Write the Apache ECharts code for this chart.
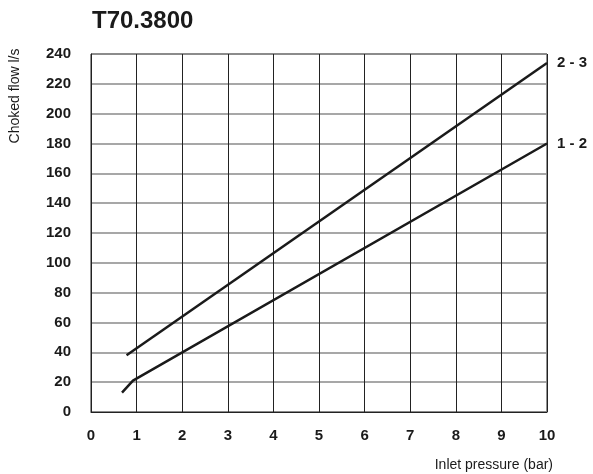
<!DOCTYPE html>
<html>
<head>
<meta charset="utf-8">
<title>T70.3800</title>
<script src="https://cdn.jsdelivr.net/npm/echarts@6/dist/echarts.min.js"></script>
<style>
  html, body { margin: 0; padding: 0; background: #fff; }
  #chart { width: 593px; height: 474px; }
</style>
</head>
<body>
<div id="chart"></div>
<script>
// x 轴 / y 轴刻度
const xTicks = [0, 1, 2, 3, 4, 5, 6, 7, 8, 9, 10];
const yTicks = [0, 20, 40, 60, 80, 100, 120, 140, 160, 180, 200, 220, 240];

// 曲线 1 - 2
const pressure12 = [0.68, 0.92, 10];
const flow12 = [13, 21, 180];

// 曲线 2 - 3
const pressure23 = [0.78, 10];
const flow23 = [38, 234];

const chart = echarts.init(document.getElementById('chart'));

const toPairs = (xs, ys) => xs.map((x, i) => [x, ys[i]]);

const boldFont = '"Liberation Sans", Arial, sans-serif';
const plainFont = '"Liberation Sans", Arial, sans-serif';

const lineSeries = (name, xs, ys) => ({
    name: name,
    type: 'line',
    data: toPairs(xs, ys),
    symbol: 'none',
    silent: true,
    lineStyle: { color: '#1a1a1a', width: 2.5 },
    endLabel: {
        show: true,
        formatter: '{a}',
        distance: 10,
        color: '#1a1a1a',
        fontFamily: boldFont,
        fontWeight: 'bold',
        fontSize: 15
    }
});

const option = {
    animation: false,
    backgroundColor: '#fff',
    title: {
        text: 'T70.3800',
        left: 92,
        top: 9,
        padding: 0,
        textStyle: {
            fontFamily: boldFont,
            fontWeight: 'bold',
            fontSize: 24,
            color: '#1a1a1a'
        }
    },
    grid: {
        left: 91,
        right: 46,
        top: 54,
        bottom: 62,
        show: true,
        borderColor: '#222',
        borderWidth: 1
    },
    xAxis: {
        type: 'value',
        min: xTicks[0],
        max: xTicks[xTicks.length - 1],
        interval: 1,
        axisLine: { lineStyle: { color: '#222', width: 1 } },
        axisTick: { show: false },
        axisLabel: {
            margin: 16,
            color: '#1a1a1a',
            fontFamily: boldFont,
            fontWeight: 'bold',
            fontSize: 15
        },
        splitLine: { lineStyle: { color: '#222', width: 1 } }
    },
    yAxis: {
        type: 'value',
        min: yTicks[0],
        max: yTicks[yTicks.length - 1],
        interval: 20,
        axisLine: { show: true, lineStyle: { color: '#222', width: 1 } },
        axisTick: { show: false },
        axisLabel: {
            margin: 20,
            color: '#1a1a1a',
            fontFamily: boldFont,
            fontWeight: 'bold',
            fontSize: 15
        },
        splitLine: { lineStyle: { color: '#8a8a8a', width: 1.5 } }
    },
    graphic: [
        {
            type: 'text',
            x: 15,
            y: 96,
            rotation: Math.PI / 2,
            style: {
                text: 'Choked flow l/s',
                fill: '#1a1a1a',
                fontFamily: plainFont,
                fontSize: 14,
                align: 'center',
                verticalAlign: 'middle'
            }
        },
        {
            type: 'text',
            x: 553,
            y: 465,
            style: {
                text: 'Inlet pressure (bar)',
                fill: '#1a1a1a',
                fontFamily: plainFont,
                fontSize: 14,
                align: 'right',
                verticalAlign: 'middle'
            }
        }
    ],
    series: [
        lineSeries('2 - 3', pressure23, flow23),
        lineSeries('1 - 2', pressure12, flow12)
    ]
};

chart.setOption(option);
</script>
</body>
</html>
